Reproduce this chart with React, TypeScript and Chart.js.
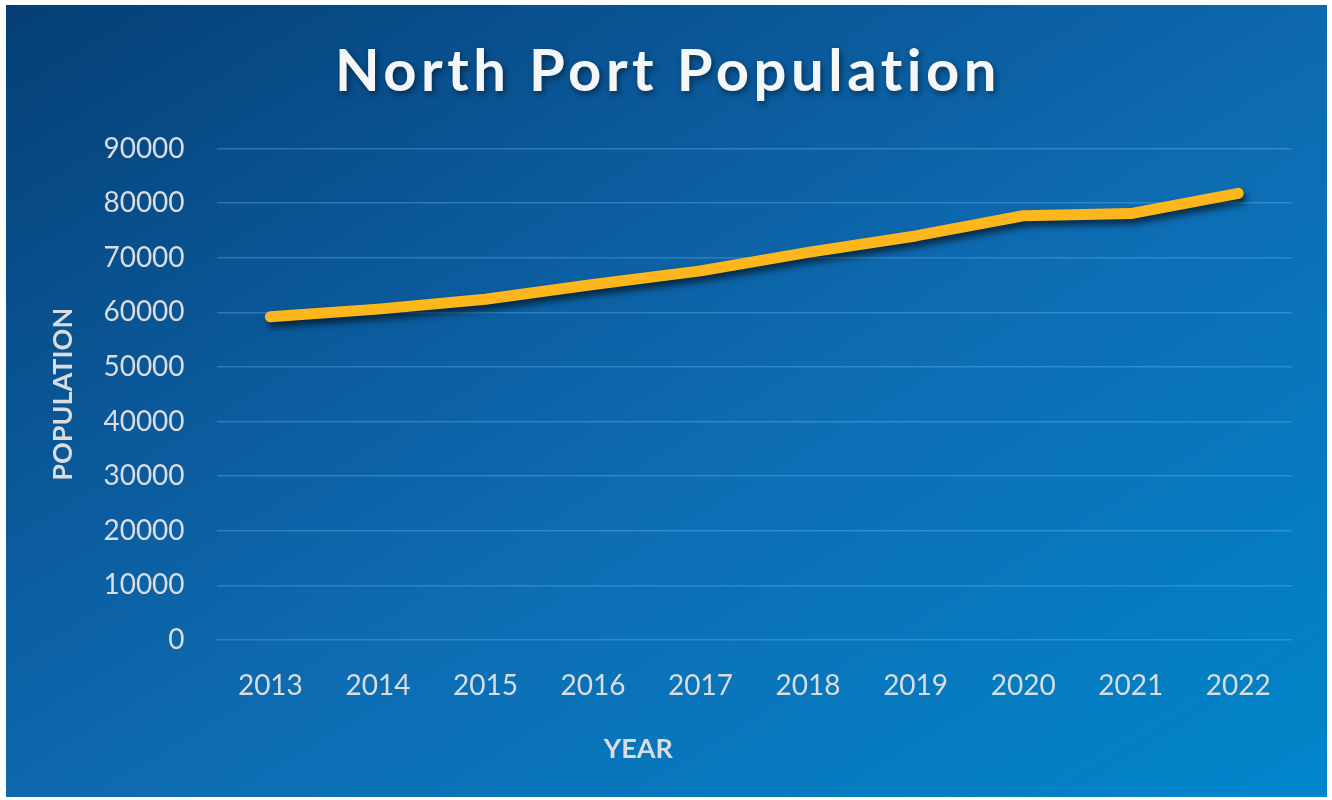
import React, { useEffect, useRef } from "react";
import { Chart, registerables } from "chart.js";

Chart.register(...registerables);

const years: string[] = ["2013", "2014", "2015", "2016", "2017", "2018", "2019", "2020", "2021", "2022"];
const population: number[] = [59200, 60600, 62400, 65100, 67600, 71000, 74000, 77700, 78100, 81800];
const chartTitle = "North Port Population";
const xTitle = "YEAR";
const yTitle = "POPULATION";
const yMin = 0;
const yMax = 90000;
const yStep = 10000;

const FONT = "Lato, 'Open Sans', sans-serif";

const effectsPlugin = {
  id: "effects",
  afterLayout(chart: any) {
    const tb = chart.titleBlock;
    if (tb && !tb.__wrapped) {
      const orig = tb.draw.bind(tb);
      tb.draw = function () {
        const ctx = chart.ctx;
        ctx.save();
        ctx.translate(19, 0);
        ctx.shadowColor = "rgba(0,0,0,0.45)";
        ctx.shadowBlur = 6;
        ctx.shadowOffsetX = 2;
        ctx.shadowOffsetY = 3;
        (ctx as any).letterSpacing = "4.5px";
        orig();
        ctx.restore();
      };
      tb.__wrapped = true;
    }
    const xs = chart.scales.x;
    if (xs && !xs.__wrapped) {
      const origT = xs.drawTitle.bind(xs);
      xs.drawTitle = function () {
        const ctx = chart.ctx;
        ctx.save();
        ctx.translate(-116, 0);
        origT();
        ctx.restore();
      };
      xs.__wrapped = true;
    }
  },
  beforeDatasetsDraw(chart: any) {
    const ctx = chart.ctx;
    ctx.save();
    ctx.shadowColor = "rgba(0,0,0,0.6)";
    ctx.shadowBlur = 7;
    ctx.shadowOffsetX = 3;
    ctx.shadowOffsetY = 5;
  },
  afterDatasetsDraw(chart: any) {
    chart.ctx.restore();
  },
};

export default function App() {
  const ref = useRef<HTMLCanvasElement | null>(null);

  useEffect(() => {
    document.body.style.margin = "0";
    document.body.style.background = "#ffffff";
    if (!ref.current) return;
    const chart = new Chart(ref.current, {
      type: "line",
      data: {
        labels: years,
        datasets: [
          {
            label: "Population",
            data: population,
            borderColor: "#FDB71C",
            borderWidth: 11,
            borderCapStyle: "round",
            borderJoinStyle: "round",
            pointRadius: 0,
            pointHoverRadius: 0,
            tension: 0,
            fill: false,
          },
        ],
      },
      options: {
        animation: false,
        responsive: false,
        maintainAspectRatio: false,
        layout: { padding: { left: 0, right: 35, top: 0, bottom: 0 } },
        plugins: {
          legend: { display: false },
          tooltip: { enabled: false },
          title: {
            display: true,
            text: chartTitle,
            color: "#f4f6f8",
            font: { family: FONT, size: 58, weight: "bold" },
            padding: { top: 32, bottom: 42 },
          },
        },
        scales: {
          x: {
            offset: true,
            grid: { display: false, drawTicks: false },
            border: { display: false },
            ticks: {
              color: "#d9dde2",
              font: { family: FONT, size: 28 },
              padding: 29,
              maxRotation: 0,
            },
            title: {
              display: true,
              text: xTitle,
              color: "#d9dde2",
              font: { family: FONT, size: 27, weight: "bold" },
              padding: { top: 1, bottom: 32 },
            },
          },
          y: {
            min: yMin,
            max: yMax,
            grid: { color: "rgba(110,185,240,0.35)", lineWidth: 1.5, drawTicks: false },
            border: { display: false },
            ticks: {
              stepSize: yStep,
              color: "#d9dde2",
              font: { family: FONT, size: 28 },
              padding: 32,
              format: { useGrouping: false },
            },
            title: {
              display: true,
              text: yTitle,
              color: "#d9dde2",
              font: { family: FONT, size: 27, weight: "bold" },
              padding: { top: 41, bottom: -8 },
            },
          },
        },
      },
      plugins: [effectsPlugin],
    });
    return () => chart.destroy();
  }, []);

  return (
    <div style={{ position: "relative", width: 1332, height: 800, background: "#ffffff" }}>
      <div
        style={{
          position: "absolute",
          left: 6,
          top: 5,
          width: 1321,
          height: 792,
          background:
            "linear-gradient(to bottom right, #053f75 0%, #0b5c9e 35%, #0e6cb2 55%, #0086cb 100%)",
        }}
      >
        <canvas ref={ref} width={1321} height={792} style={{ display: "block", width: 1321, height: 792 }} />
      </div>
    </div>
  );
}
